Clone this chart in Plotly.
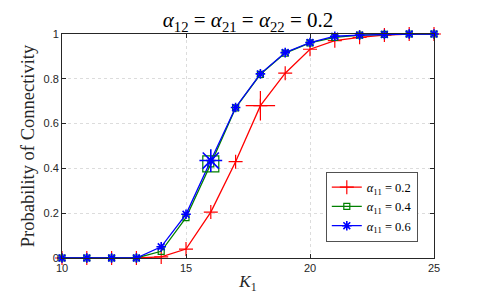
import plotly.graph_objects as go

K1 = [10, 11, 12, 13, 14, 15, 16, 17, 18, 19, 20, 21, 22, 23, 24, 25]
p_a02 = [0, 0, 0, 0, 0.005, 0.04, 0.205, 0.43, 0.68, 0.825, 0.932, 0.97, 0.985, 0.995, 1.0, 1.0]
p_a04 = [0, 0, 0, 0, 0.03, 0.18, 0.42, 0.67, 0.82, 0.915, 0.96, 0.985, 0.995, 0.998, 1.0, 1.0]
p_a06 = [0, 0, 0, 0, 0.05, 0.195, 0.435, 0.672, 0.822, 0.917, 0.962, 0.99, 0.995, 0.998, 1.0, 1.0]
legend_names = ["<i>α</i><sub>11</sub> = 0.2", "<i>α</i><sub>11</sub> = 0.4", "<i>α</i><sub>11</sub> = 0.6"]
title_text = "<i>α</i><sub>12</sub> = <i>α</i><sub>21</sub> = <i>α</i><sub>22</sub> = 0.2"
big_idx = [8, 6, 6]

series = [p_a02, p_a04, p_a06]
colors = ["#ff0000", "#008000", "#0000ff"]
symbols = ["cross-thin-open", "square-open", "asterisk-open"]
small_sizes = [10, 6, 8]
big_sizes = [21, 16, 19]
widths = [1.2, 1.2, 1.6]

fig = go.Figure()
for ys, name, c, s, ss, bs, w in zip(series, legend_names, colors, symbols, small_sizes, big_sizes, widths):
    fig.add_trace(go.Scatter(x=K1, y=ys, mode="lines+markers", name=name, cliponaxis=False,
                             line=dict(color=c, width=1.3),
                             marker=dict(symbol=s, size=ss, color=c, line=dict(color=c, width=w))))
for ys, c, s, bs, w, bi in zip(series, colors, symbols, big_sizes, widths, big_idx):
    fig.add_trace(go.Scatter(x=[K1[bi]], y=[ys[bi]], mode="markers", showlegend=False, cliponaxis=False,
                             marker=dict(symbol=s, size=bs, color=c, line=dict(color=c, width=w))))

serif = "Liberation Serif, DejaVu Serif, serif"
sans = "Liberation Sans, Arial, sans-serif"
axis_common = dict(showline=True, linecolor="#262626", linewidth=0.8, mirror="ticks",
                   ticks="inside", ticklen=4, tickcolor="#262626", automargin=False,
                   showgrid=True, gridcolor="#dcdcdc", griddash="dot", gridwidth=0.8,
                   zeroline=False, tickfont=dict(family=sans, size=11, color="#262626"))

fig.update_layout(
    width=480, height=300,
    margin=dict(l=54, r=54, t=26, b=50, autoexpand=False),
    paper_bgcolor="white", plot_bgcolor="white",
    title=dict(text=title_text,
               x=0.5, xanchor="center", y=0.96, yanchor="middle",
               font=dict(family=serif, size=21, color="black")),
    xaxis=dict(range=[10, 25], tickvals=[10, 15, 20, 25],
               title=dict(text="<i>K</i><sub>1</sub>", font=dict(family=serif, size=17, color="#262626"), standoff=2),
               **axis_common),
    yaxis=dict(range=[0, 1], tickvals=[0, 0.2, 0.4, 0.6, 0.8, 1],
               title=dict(text="Probability of Connectivity", font=dict(family=serif, size=18.5, color="#262626"), standoff=4),
               **axis_common),
    legend=dict(x=0.957, y=0.385, xanchor="right", yanchor="top",
                bgcolor="white", bordercolor="#262626", borderwidth=0.8,
                font=dict(family=serif, size=12.5, color="black"),
                itemwidth=30, tracegroupgap=0),
    showlegend=True,
)

fig.write_html("out.html")
